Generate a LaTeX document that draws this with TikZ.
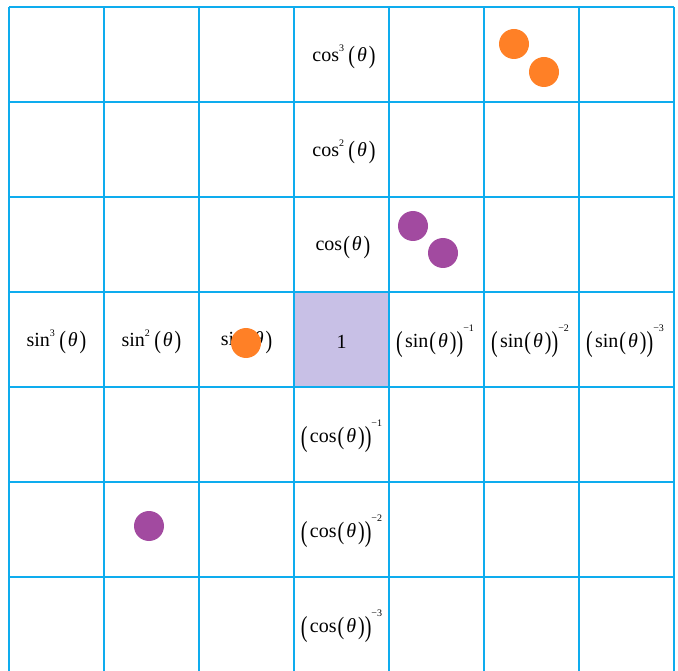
\documentclass[tikz,border=0pt]{standalone}
\usepackage{fontspec}
\setmainfont{Liberation Serif}
\usepackage{graphicx}
\usepackage{tikz}

\definecolor{gridblue}{RGB}{14,172,238}
\definecolor{lilac}{RGB}{200,192,230}
\definecolor{dotorange}{RGB}{255,128,38}
\definecolor{dotpurple}{RGB}{162,74,160}
\newcommand{\ang}{\kern.1em\textit{θ}\kern.1em}
\newcommand{\lp}{\kern.05em\raisebox{-.12em}{\scalebox{1}[1.25]{(}}}
\newcommand{\rp}{\raisebox{-.12em}{\scalebox{1}[1.25]{)}}}
\newcommand{\Lp}{\raisebox{-.2em}{\scalebox{1}[1.45]{(}}\kern.12em}
\newcommand{\Rp}{\raisebox{-.2em}{\scalebox{1}[1.45]{)}}}
\newcommand{\ex}[1]{\raisebox{.5em}{\fontsize{10}{12}\selectfont #1}}
\newcommand{\Ex}[1]{\raisebox{.8em}{\fontsize{10}{12}\selectfont #1}}
\tikzset{
  gridline/.style={gridblue,line width=2pt},
  odot/.style={circle,fill=dotorange,minimum size=30pt,inner sep=0pt},
  pdot/.style={circle,fill=dotpurple,minimum size=30pt,inner sep=0pt}
}

\begin{document}
\begin{tikzpicture}[x=1pt,y=-1pt,font=\fontsize{20}{23}\selectfont]
  \useasboundingbox (0,0) rectangle (678,671);
  \fill[lilac] (294,292) rectangle (389,387);
  \foreach \x in {9,104,...,674} \draw[gridline] (\x,7)--(\x,671);
  \foreach \y in {7,102,...,577} \draw[gridline] (9,\y)--(674,\y);
  \node (cos3) at (344,57) {cos\ex{3}\,\lp\ang\rp};
  \node (cos2) at (344,152) {cos\ex{2}\,\lp\ang\rp};
  \node (cos1) at (343,247) {cos\lp\ang\rp};
  \node (sin3) at (56.5,342) {sin\ex{3}\,\lp\ang\rp};
  \node (sin2) at (151.5,342) {sin\ex{2}\,\lp\ang\rp};
  \node (sin1) at (246.5,342) {sin\lp\ang\rp};
  \node (one) at (341.5,342) {1};
  \foreach \k in {1,2,3}{
    \node[inner sep=0pt] (isin\k) at (340+95*\k,341) {\Lp sin\lp\ang\rp\Rp\Ex{−\k}};
    \node (icos\k) at (341.5,341+95*\k) {\Lp cos\lp\ang\rp\Rp\Ex{−\k}};
  }
  \node[odot] (o1) at (514,44) {};
  \node[odot] (o2) at (544,72) {};
  \node[odot] (o3) at (246,343) {};
  \node[pdot] (p1) at (413,226) {};
  \node[pdot] (p2) at (443,253) {};
  \node[pdot] (p3) at (149,526) {};
\end{tikzpicture}
\end{document}
